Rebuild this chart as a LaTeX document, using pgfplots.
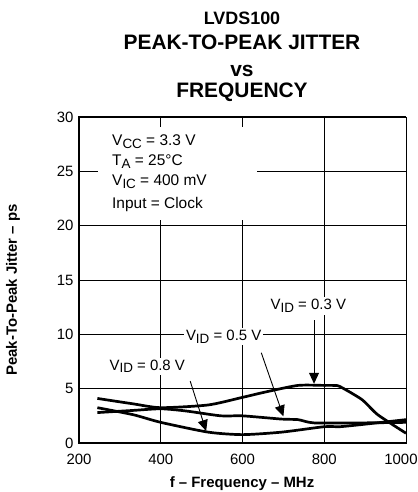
\documentclass[border=0pt]{standalone}
\usepackage{fontspec}
\setmainfont{Liberation Sans}
\usepackage{pgfplots}
\pgfplotsset{compat=1.18}
\usetikzlibrary{arrows.meta}
\newcommand\sub[1]{\raisebox{-0.35ex}{\fontsize{13.5}{13.5}\selectfont #1}}
\begin{document}
\begin{tikzpicture}
\begin{axis}[
  width=327bp, height=326bp, scale only axis,
  xmin=200, xmax=1000, ymin=0, ymax=30,
  xtick={200,400,600,800,1000}, ytick={0,5,10,15,20,25,30},
  xticklabels={200,400,600,800,\hspace*{-10bp}1000},
  grid=major, major grid style={black, line width=0.8bp},
  major tick length=0,
  axis line style={line width=0.9bp},
  /pgf/number format/assume math mode=true,
  ticklabel style={font=\fontsize{15}{15}\selectfont},
  xticklabel style={yshift=-8bp},
  yticklabel style={xshift=-2bp},
  clip=false,
]
\addplot[black, line width=2.7bp, smooth, tension=0.4] coordinates {
 (245,4.1) (333,3.6) (400,3.25) (516,3.5) (600,4.2) (657,4.7) (736,5.3) (800,5.3) (822,5.3) (838,5.2) (892,4.0) (931,2.6) (1000,0.9)};
\addplot[black, line width=2.7bp, smooth, tension=0.4] coordinates {
 (245,2.8) (333,3.0) (400,3.15) (461,2.95) (547,2.5) (600,2.5) (696,2.2) (736,2.15) (775,1.85) (892,1.85) (1000,1.9)};
\addplot[black, line width=2.7bp, smooth, tension=0.4] coordinates {
 (245,3.25) (333,2.6) (400,1.9) (516,1.0) (600,0.77) (696,1.0) (800,1.5) (838,1.5) (892,1.7) (1000,2.15)};
\node[fill=white, inner sep=2bp, font=\fontsize{15}{15}\selectfont] at (axis cs:761,12.6) {V\sub{ID} = 0.3 V};
\node[fill=white, inner sep=2bp, font=\fontsize{15}{15}\selectfont] at (axis cs:554,9.8) {V\sub{ID} = 0.5 V};
\node[fill=white, inner sep=2bp, font=\fontsize{15}{15}\selectfont] at (axis cs:367,7.05) {V\sub{ID} = 0.8 V};
\draw[line width=0.9bp, -{Triangle[length=11bp,width=10bp]}] (axis cs:775,11.3) -- (axis cs:775,5.45);
\draw[line width=0.9bp, -{Triangle[length=11bp,width=10bp]}] (axis cs:646,8.3) -- (axis cs:700,2.45);
\draw[line width=0.9bp, -{Triangle[length=11bp,width=10bp]}] (axis cs:472,5.7) -- (axis cs:511,1.1);
\draw[line width=2.4bp] (rel axis cs:1,1) -- (rel axis cs:0,1) -- (rel axis cs:0,0) -- (rel axis cs:1,0);
\end{axis}
\fill[white] (19bp,223bp) rectangle (178bp,316bp);
\node[anchor=base west, inner sep=0pt, font=\fontsize{15.5}{15.5}\selectfont] at (33bp,297bp) {V\sub{CC} = 3.3 V};
\node[anchor=base west, inner sep=0pt, font=\fontsize{15.5}{15.5}\selectfont] at (33bp,277bp) {T\sub{A} = 25°C};
\node[anchor=base west, inner sep=0pt, font=\fontsize{15.5}{15.5}\selectfont] at (33bp,257bp) {V\sub{IC} = 400 mV};
\node[anchor=base west, inner sep=0pt, font=\fontsize{15.5}{15.5}\selectfont] at (33bp,234bp) {Input = Clock};
\node[anchor=base, inner sep=0pt, font=\fontsize{18}{18}\selectfont\bfseries] at (163bp,418bp) {LVDS100};
\node[anchor=base, inner sep=0pt, font=\fontsize{21}{21}\selectfont\bfseries] at (163bp,393bp) {PEAK-TO-PEAK JITTER};
\node[anchor=base, inner sep=0pt, font=\fontsize{21}{21}\selectfont\bfseries] at (163bp,366bp) {vs};
\node[anchor=base, inner sep=0pt, font=\fontsize{21}{21}\selectfont\bfseries] at (163bp,345bp) {FREQUENCY};
\node[anchor=base, inner sep=0pt, font=\fontsize{15}{15}\selectfont\bfseries] at (163bp,-44bp) {f – Frequency – MHz};
\node[rotate=90, anchor=base, inner sep=0pt, font=\fontsize{15}{15}\selectfont\bfseries] at (-62bp,153bp) {Peak-To-Peak Jitter – ps};
\pgfresetboundingbox
\path[use as bounding box] (-79bp,-49bp) rectangle (339bp,443bp);
\end{tikzpicture}
\end{document}
